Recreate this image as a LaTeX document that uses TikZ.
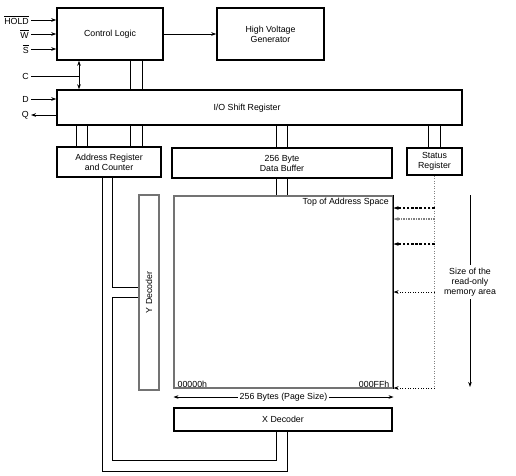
\documentclass[tikz,border=0pt]{standalone}
\usepackage{fontspec}
\setmainfont{Liberation Sans}
\usetikzlibrary{arrows.meta}
\begin{document}
\begin{tikzpicture}[x=1pt,y=-1pt,
  txt/.style={font=\fontsize{8.8}{10}\selectfont},
  box/.style={draw,line width=1.5pt,inner sep=0pt,align=center,txt},
  gbox/.style={draw=black!55,line width=1.1pt,inner sep=0pt},
  wire/.style={line width=0.8pt},
  tip/.style={-{Stealth[length=5pt,width=3.6pt]}},
  arr/.style={wire,tip},
  lbl/.style={txt,inner sep=0pt,align=center},
  thickdash/.style={line width=1.5pt,dash pattern=on 2.6pt off 1.6pt},
  blackdot/.style={line width=1pt,dash pattern=on 1pt off 1.6pt},
  greydot/.style={draw=black!50,line width=1.2pt,dash pattern=on 1.1pt off 1.4pt},
]
\useasboundingbox (0,0) rectangle (516,475);

% ---- blocks
\node[box,minimum width=106pt,minimum height=52pt] (cl) at (110,34) {Control Logic};
\node[box,minimum width=107pt,minimum height=52pt] (hv) at (270.5,34) {High Voltage\\Generator};
\node[box,minimum width=405pt,minimum height=35pt] (io) at (259.5,107.5) {};
\node[lbl] (iot) at (247,108) {I/O Shift Register};
\node[box,minimum width=104pt,minimum height=30pt] (ar) at (109,162) {Address Register\\and Counter};
\node[box,minimum width=220pt,minimum height=30pt] (db) at (282,163) {256 Byte\\Data Buffer};
\node[box,minimum width=55pt,minimum height=27pt] (sr) at (434.5,161.5) {Status\\Register};
\node[gbox,minimum width=219pt,minimum height=192pt] (mem) at (283.5,292) {};
\draw[line width=1.2pt] (mem.north east) -- (mem.south east);
\node[gbox,minimum width=20pt,minimum height=195pt] (yd) at (149,292.5) {};
\node[lbl,rotate=90] (ydt) at (yd) {Y Decoder};
\node[box,minimum width=218pt,minimum height=23pt] (xd) at (283,419.5) {X Decoder};

% ---- memory labels
\node[lbl,anchor=north east] (top) at (389,197.5) {Top of Address Space};
\node[lbl,anchor=south west] (lo) at (177.5,388) {00000h};
\node[lbl,anchor=south east] (hi) at (389.5,388) {000FFh};

% ---- page size dimension
\coordinate (dimy) at (0,397);
\node[lbl,fill=white,inner xsep=2pt] (ps) at (283.5,397) {256 Bytes (Page Size)};
\draw[arr] (ps.west) -- (mem.west |- dimy);
\draw[arr] (ps.east) -- (mem.east |- dimy);

% ---- inputs
\coordinate (hold) at (31,20);
\coordinate (w) at (31,34);
\coordinate (s) at (31,49);
\coordinate (c) at (31,76);
\coordinate (d) at (31,99);
\coordinate (q) at (31,115);
\node[lbl,anchor=east] (holdt) at ([xshift=-2pt]hold) {$\overline{\hbox{HOLD}}$};
\node[lbl,anchor=east] (wt) at ([xshift=-2pt]w) {$\overline{\hbox{W}}$};
\node[lbl,anchor=east] (st) at ([xshift=-2pt]s) {$\overline{\hbox{S}}$};
\node[lbl,anchor=east] (ct) at ([xshift=-2pt]c) {C};
\node[lbl,anchor=east] (dt) at ([xshift=-2pt]d) {D};
\node[lbl,anchor=east] (qt) at ([xshift=-2pt]q) {Q};
\draw[arr] (hold) -- (hold -| cl.west);
\draw[arr] (w) -- (w -| cl.west);
\draw[arr] (s) -- (s -| cl.west);
\draw[arr] (d) -- (d -| io.west);
\draw[arr] (io.west |- q) -- (q);
\coordinate (cbus) at (79,0);
\draw[wire] (c) -- (c -| cbus);
\draw[wire,{Stealth[length=5pt,width=3.6pt]}-{Stealth[length=5pt,width=3.6pt]}] (cl.south -| cbus) -- (io.north -| cbus);
\draw[arr] (cl) -- (hv);

% ---- buses (double lines)
\foreach \x in {130,142}{
  \coordinate (bx) at (\x,0);
  \draw[wire] (cl.south -| bx) -- (io.north -| bx);
  \draw[wire] (io.south -| bx) -- (ar.north -| bx);
}
\foreach \x in {76,87}{
  \coordinate (bx) at (\x,0);
  \draw[wire] (io.south -| bx) -- (ar.north -| bx);
}
\foreach \x in {276,287}{
  \coordinate (bx) at (\x,0);
  \draw[wire] (io.south -| bx) -- (db.north -| bx);
  \draw[wire] (db.south -| bx) -- (mem.north -| bx);
}
\foreach \x in {428,440}{
  \coordinate (bx) at (\x,0);
  \draw[wire] (io.south -| bx) -- (sr.north -| bx);
}

% ---- address lines to decoders
\coordinate (ox) at (102,471);
\coordinate (ix) at (112,460);
\coordinate (ya) at (0,287);
\coordinate (yb) at (0,297);
\coordinate (xo) at (287,0);
\coordinate (xi) at (276,0);
\draw[wire] (ar.south -| ox) -- (ox) -- (ox -| xo) -- (xd.south -| xo);
\draw[wire] (ar.south -| ix) -- (ix |- ya) -- (yd.west |- ya);
\draw[wire] (yd.west |- yb) -- (ix |- yb) -- (ix) -- (ix -| xi) -- (xd.south -| xi);

% ---- read-only area pointers
\coordinate (rb) at (434.5,388);
\draw[greydot] (sr.south) -- (rb);
\coordinate (p1) at (434.5,208);
\coordinate (p2) at (434.5,219);
\coordinate (p3) at (434.5,244);
\coordinate (p4) at (434.5,292);
\draw[thickdash,tip] (p1) -- (p1 -| mem.east);
\draw[greydot,tip] (p2) -- (p2 -| mem.east);
\draw[thickdash,tip] (p3) -- (p3 -| mem.east);
\draw[blackdot,tip] (p4) -- (p4 -| mem.east);
\draw[blackdot,tip] (rb) -- (rb -| mem.east);

% ---- size of read-only area
\node[lbl] (sz) at (470,282) {Size of the\\read-only\\memory area};
\coordinate (szt) at (470,195);
\coordinate (szb) at (470,387);
\draw[wire] (szt) -- ([yshift=3pt]sz.north);
\draw[arr] ([yshift=-3pt]sz.south) -- (szb);
\end{tikzpicture}
\end{document}
